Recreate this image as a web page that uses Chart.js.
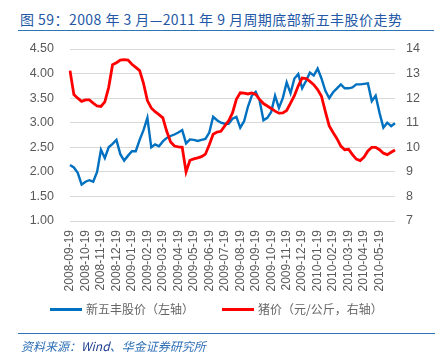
<!DOCTYPE html>
<html>
<head>
<meta charset="utf-8">
<script src="https://cdn.jsdelivr.net/npm/chart.js@4/dist/chart.umd.min.js"></script>
<style>
  html, body { margin: 0; padding: 0; background: #fff; }
  body { width: 445px; height: 364px; position: relative; overflow: hidden; font-family: "Noto Sans CJK SC", "Liberation Sans", sans-serif; }
  #title { position: absolute; left: 20px; top: 10px; font-size: 14px; color: #2458A6; white-space: nowrap; letter-spacing: 0.45px; line-height: 18px; }
  #rule1 { position: absolute; left: 18px; top: 30px; width: 416px; height: 1px; background: #2E75B6; }
  #rule2 { position: absolute; left: 18px; top: 333px; width: 417px; height: 1px; background: #2E75B6; }
  #source { position: absolute; left: 21px; top: 338px; font-size: 12px; font-style: italic; color: #2F6FB5; white-space: nowrap; line-height: 16px; }
  #source b { font-weight: normal; color: #1F3F8F; }
  .leg { position: absolute; top: 301px; font-size: 12px; color: #666666; white-space: nowrap; line-height: 16px; }
  .sw { position: absolute; top: 308px; height: 3px; width: 32px; }
  #cv { position: absolute; left: 0; top: 0; }
</style>
</head>
<body>
<div id="title">图 59：2008 年 3 月—2011 年 9 月周期底部新五丰股价走势</div>
<div id="rule1"></div>
<canvas id="cv" width="445" height="364"></canvas>
<div class="sw" style="left:50px;background:#0070C0"></div>
<div class="leg" style="left:86px">新五丰股价（左轴）</div>
<div class="sw" style="left:222px;background:#FF0000"></div>
<div class="leg" style="left:258px">猪价（元/公斤，右轴）</div>
<div id="rule2"></div>
<div id="source">资料来源：<b>Wind</b>、华金证券研究所</div>
<script>
const categories = [
 "2008-09-19","2008-09-26","2008-10-03","2008-10-11",
 "2008-10-19","2008-10-26","2008-11-03","2008-11-11",
 "2008-11-19","2008-11-26","2008-12-03","2008-12-11",
 "2008-12-19","2008-12-26","2009-01-03","2009-01-11",
 "2009-01-19","2009-01-26","2009-02-03","2009-02-11",
 "2009-02-19","2009-02-26","2009-03-03","2009-03-11",
 "2009-03-19","2009-03-26","2009-04-03","2009-04-11",
 "2009-04-19","2009-04-26","2009-05-03","2009-05-11",
 "2009-05-19","2009-05-26","2009-06-03","2009-06-11",
 "2009-06-19","2009-06-26","2009-07-03","2009-07-11",
 "2009-07-19","2009-07-26","2009-08-03","2009-08-11",
 "2009-08-19","2009-08-26","2009-09-03","2009-09-11",
 "2009-09-19","2009-09-26","2009-10-03","2009-10-11",
 "2009-10-19","2009-10-26","2009-11-03","2009-11-11",
 "2009-11-19","2009-11-26","2009-12-03","2009-12-11",
 "2009-12-19","2009-12-26","2010-01-03","2010-01-11",
 "2010-01-19","2010-01-26","2010-02-03","2010-02-11",
 "2010-02-19","2010-02-26","2010-03-03","2010-03-11",
 "2010-03-19","2010-03-26","2010-04-03","2010-04-11",
 "2010-04-19","2010-04-26","2010-05-03","2010-05-11",
 "2010-05-19","2010-05-26","2010-06-03","2010-06-11",
 "2010-06-19"
];
const tickLabels = [
 "2008-09-19","2008-10-19","2008-11-19","2008-12-19","2009-01-19","2009-02-19",
 "2009-03-19","2009-04-19","2009-05-19","2009-06-19","2009-07-19","2009-08-19",
 "2009-09-19","2009-10-19","2009-11-19","2009-12-19","2010-01-19","2010-02-19",
 "2010-03-19","2010-04-19","2010-05-19"
];
const stockPrice = [
 2.14, 2.09, 1.98, 1.74, 1.80, 1.83, 1.80, 2.00, 2.45, 2.28,
 2.50, 2.57, 2.65, 2.36, 2.23, 2.33, 2.42, 2.42, 2.65, 2.85,
 3.10, 2.50, 2.56, 2.52, 2.62, 2.69, 2.73, 2.76, 2.80, 2.85,
 2.58, 2.66, 2.65, 2.63, 2.65, 2.67, 2.80, 3.12, 3.05, 3.00,
 2.98, 2.98, 3.08, 3.12, 2.90, 3.03, 3.33, 3.55, 3.63, 3.45,
 3.05, 3.10, 3.22, 3.55, 3.30, 3.50, 3.82, 3.60, 3.90, 3.99,
 3.70, 3.85, 4.02, 3.96, 4.10, 3.90, 3.65, 3.50, 3.62, 3.70,
 3.78, 3.70, 3.70, 3.72, 3.78, 3.78, 3.79, 3.80, 3.44, 3.55,
 3.20, 2.90, 3.00, 2.93, 2.99
];
const hogPrice = [
 13.12, 12.15, 12.00, 11.87, 11.93, 11.93, 11.80, 11.68, 11.66, 11.85,
 12.44, 13.36, 13.44, 13.55, 13.57, 13.55, 13.38, 13.25, 13.12, 12.60,
 11.90, 11.60, 11.45, 11.33, 11.20, 10.65, 10.22, 10.05, 10.02, 10.00,
 9.00, 9.47, 9.53, 9.57, 9.62, 9.72, 10.10, 10.53, 10.62, 10.65,
 10.87, 11.08, 11.40, 11.95, 12.22, 12.20, 12.17, 12.21, 12.15, 11.95,
 11.78, 11.68, 11.58, 11.47, 11.39, 11.40, 11.50, 11.80, 12.10, 12.50,
 12.82, 12.80, 12.68, 12.55, 12.35, 12.08, 11.45, 10.87, 10.60, 10.35,
 10.05, 9.90, 9.92, 9.70, 9.52, 9.46, 9.60, 9.85, 10.00, 10.00,
 9.90, 9.76, 9.70, 9.80, 9.89
];

const tickFont = { family: "'Liberation Sans', Arial, sans-serif", size: 12.5 };
new Chart(document.getElementById('cv'), {
  type: 'line',
  data: {
    labels: categories,
    datasets: [
      { label: '猪价（元/公斤，右轴）', data: hogPrice, yAxisID: 'y1', borderColor: '#FF0000', borderWidth: 2.8, pointRadius: 0, tension: 0, fill: false },
      { label: '新五丰股价（左轴）', data: stockPrice, yAxisID: 'y', borderColor: '#0070C0', borderWidth: 2.4, pointRadius: 0, tension: 0, fill: false }
    ]
  },
  options: {
    responsive: false,
    animation: false,
    devicePixelRatio: 1,
    layout: { padding: { top: 49, bottom: 0, left: 0, right: 0 } },
    plugins: { legend: { display: false }, tooltip: { enabled: false } },
    scales: {
      x: {
        type: 'category',
        grid: { display: false, drawTicks: false },
        border: { display: false },
        ticks: {
          autoSkip: false, minRotation: 90, maxRotation: 90, padding: 9,
          color: '#595959', font: { family: tickFont.family, size: 12 },
          callback: function(v) { const l = categories[v]; return tickLabels.includes(l) ? l : ''; }
        },
        afterFit: function(s) { s.height = 143; }
      },
      y: {
        position: 'left', min: 1, max: 4.5,
        grid: { color: '#D9D9D9', lineWidth: 1, drawTicks: false },
        border: { display: false },
        ticks: { stepSize: 0.5, padding: 16, color: '#595959', font: tickFont, callback: v => Number(v).toFixed(2) },
        afterFit: function(s) { s.width = 70; }
      },
      y1: {
        position: 'right', min: 7, max: 14,
        grid: { drawOnChartArea: false, drawTicks: false },
        border: { display: false },
        ticks: { stepSize: 1, padding: 11, color: '#595959', font: tickFont },
        afterFit: function(s) { s.width = 50; }
      }
    }
  }
});
</script>
</body>
</html>
